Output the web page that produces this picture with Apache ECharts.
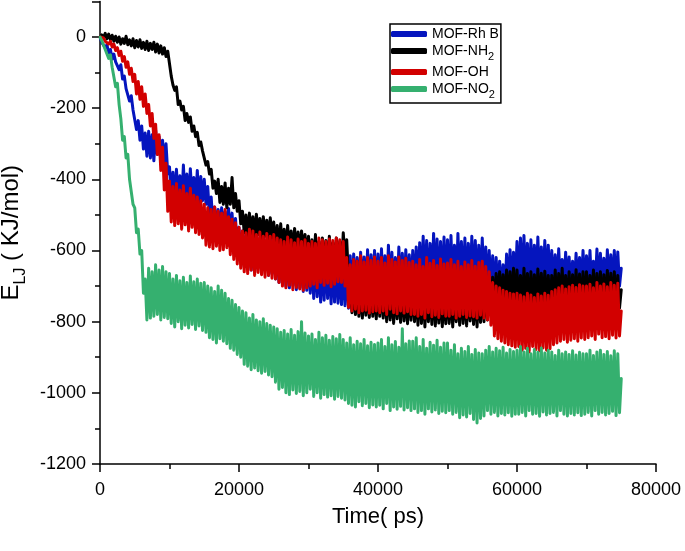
<!DOCTYPE html>
<html><head><meta charset="utf-8">
<script src="https://cdn.jsdelivr.net/npm/echarts@6/dist/echarts.min.js"></script>
<style>html,body{margin:0;padding:0;background:#fff}#c{width:685px;height:551px}</style>
</head><body><div id="c"></div>
<script>
// sampling interval of the traces (ps)
const timeStepPs = 250;
const seriesNames = ['MOF-Rh B', 'MOF-NH2', 'MOF-OH', 'MOF-NO2'];
const seriesColors = ['#0515BE', '#000000', '#D20000', '#35B06F'];

// E_LJ (kJ/mol), one value every 250 ps from 0 to 75000 ps; 20 values per row = 5000 ps
const mofRhB = [
  0, -15, -10, -30, -22, -45, -35, -62, -48, -70, -65, -92, -78, -118, -110, -145, -140, -180, -165, -205,
  -200, -260, -235, -290, -250, -315, -270, -335, -265, -340, -275, -348, -262, -330, -280, -345, -290, -355, -300, -385,
  -365, -450, -380, -465, -372, -455, -390, -470, -360, -460, -385, -475, -370, -455, -395, -465, -375, -470, -392, -460,
  -400, -470, -420, -500, -450, -530, -478, -540, -485, -545, -480, -535, -490, -550, -482, -555, -495, -575, -510, -600,
  -535, -630, -545, -645, -555, -650, -540, -655, -560, -660, -550, -648, -565, -665, -555, -655, -570, -670, -560, -665,
  -570, -680, -575, -690, -580, -695, -565, -700, -585, -705, -575, -698, -590, -710, -580, -705, -595, -715, -600, -712,
  -610, -720, -615, -735, -605, -730, -620, -745, -625, -740, -610, -735, -630, -750, -620, -745, -625, -748, -635, -752,
  -630, -755, -625, -762, -615, -730, -610, -720, -620, -725, -605, -715, -618, -722, -598, -718, -612, -726, -600, -720,
  -610, -722, -595, -715, -615, -728, -585, -718, -605, -712, -620, -725, -590, -716, -608, -720, -598, -710, -612, -722,
  -600, -712, -590, -708, -578, -705, -560, -700, -572, -712, -580, -706, -552, -698, -568, -710, -575, -702, -562, -705,
  -570, -705, -558, -700, -585, -712, -552, -695, -575, -706, -565, -700, -580, -712, -560, -698, -572, -705, -585, -710,
  -565, -702, -590, -712, -600, -718, -615, -722, -620, -720, -630, -725, -640, -728, -610, -715, -598, -712, -605, -708,
  -575, -700, -565, -705, -558, -695, -580, -710, -570, -700, -585, -705, -562, -698, -590, -708, -572, -702, -585, -706,
  -600, -705, -612, -712, -595, -700, -625, -710, -605, -705, -618, -712, -630, -708, -608, -700, -620, -710, -600, -706,
  -615, -705, -600, -712, -630, -702, -596, -710, -608, -700, -622, -714, -598, -706, -612, -708, -600, -710, -604, -700,
  -650
];
const mofNH2 = [
  0, 6, -2, 10, -5, 8, -8, 5, -12, 2, -15, 0, -20, -5, -18, 2, -22, -8, -25, -5,
  -30, -10, -28, -8, -32, -15, -35, -12, -38, -18, -35, -15, -42, -20, -45, -25, -48, -30, -55, -40,
  -75, -110, -135, -150, -140, -190, -180, -205, -195, -235, -215, -240, -225, -265, -250, -280, -268, -305, -295, -320,
  -320, -360, -350, -385, -372, -425, -405, -440, -400, -465, -420, -470, -410, -480, -425, -470, -395, -480, -440, -490,
  -460, -525, -490, -550, -500, -560, -495, -555, -505, -565, -498, -555, -510, -568, -505, -560, -515, -570, -508, -565,
  -520, -590, -530, -600, -525, -595, -540, -605, -530, -598, -545, -610, -538, -600, -548, -612, -545, -605, -555, -615,
  -560, -640, -570, -650, -555, -645, -575, -655, -565, -650, -572, -655, -560, -648, -578, -660, -565, -652, -575, -658,
  -550, -620, -570, -680, -695, -775, -700, -780, -690, -785, -705, -790, -695, -782, -708, -788, -700, -785, -710, -792,
  -700, -785, -690, -790, -705, -800, -695, -795, -710, -805, -698, -792, -706, -802, -694, -798, -712, -806, -700, -796,
  -700, -800, -710, -810, -695, -805, -705, -815, -700, -800, -712, -808, -698, -812, -706, -804, -702, -814, -708, -806,
  -710, -805, -700, -815, -705, -800, -715, -810, -700, -805, -708, -812, -702, -798, -712, -808, -704, -815, -710, -802,
  -705, -800, -698, -795, -690, -780, -675, -760, -665, -740, -660, -745, -668, -752, -655, -748, -660, -755, -650, -750,
  -655, -765, -670, -770, -650, -760, -665, -775, -660, -765, -668, -772, -652, -762, -664, -770, -658, -766, -670, -774,
  -670, -760, -655, -765, -665, -755, -650, -760, -670, -770, -660, -762, -668, -758, -654, -764, -666, -770, -660, -760,
  -660, -760, -670, -750, -655, -765, -665, -755, -660, -760, -668, -762, -656, -754, -664, -766, -660, -758, -670, -762,
  -710
];
const mofOH = [
  0, -5, -3, -12, -8, -20, -12, -28, -20, -38, -30, -52, -40, -68, -55, -85, -70, -105, -88, -125,
  -105, -160, -125, -175, -140, -195, -160, -215, -190, -250, -215, -285, -245, -330, -275, -375, -310, -430, -355, -490,
  -405, -520, -420, -530, -412, -525, -430, -540, -418, -528, -440, -545, -425, -535, -445, -550, -450, -555, -460, -565,
  -470, -585, -480, -590, -485, -595, -478, -588, -490, -600, -495, -598, -485, -592, -505, -612, -512, -625, -522, -638,
  -535, -650, -545, -660, -550, -665, -540, -655, -545, -670, -555, -662, -548, -668, -560, -675, -552, -670, -560, -678,
  -555, -680, -565, -690, -570, -700, -575, -705, -562, -698, -570, -710, -578, -704, -568, -708, -575, -712, -570, -705,
  -580, -700, -575, -695, -580, -705, -565, -690, -570, -698, -575, -692, -568, -702, -572, -695, -565, -688, -570, -690,
  -575, -700, -620, -760, -640, -770, -625, -765, -630, -775, -615, -770, -632, -768, -620, -776, -628, -772, -618, -770,
  -630, -775, -620, -770, -635, -780, -615, -765, -625, -775, -632, -778, -618, -770, -628, -776, -622, -772, -634, -780,
  -630, -780, -640, -785, -625, -780, -645, -790, -620, -775, -636, -786, -628, -782, -642, -788, -624, -778, -638, -785,
  -635, -785, -625, -780, -640, -790, -630, -785, -645, -780, -632, -788, -640, -784, -628, -786, -644, -790, -634, -782,
  -630, -790, -645, -795, -660, -810, -690, -840, -700, -848, -705, -855, -712, -860, -715, -865, -720, -868, -722, -872,
  -720, -870, -725, -880, -730, -875, -720, -885, -725, -870, -732, -878, -722, -882, -728, -874, -720, -880, -726, -876,
  -715, -865, -710, -860, -705, -855, -700, -850, -708, -858, -702, -852, -698, -848, -704, -855, -696, -846, -700, -850,
  -700, -845, -695, -840, -705, -850, -690, -835, -700, -845, -694, -842, -702, -848, -690, -838, -698, -846, -692, -840,
  -770
];
const mofNO2 = [
  0, -10, -15, -35, -30, -60, -50, -85, -90, -140, -130, -190, -230, -290, -280, -340, -330, -400, -400, -470,
  -480, -550, -540, -610, -600, -720, -680, -795, -650, -790, -660, -785, -640, -780, -655, -795, -645, -788, -660, -792,
  -665, -805, -680, -815, -670, -800, -685, -820, -675, -810, -690, -818, -672, -808, -688, -822, -680, -812, -692, -825,
  -690, -830, -700, -845, -705, -850, -715, -860, -700, -848, -712, -855, -720, -862, -735, -875, -740, -880, -752, -892,
  -760, -900, -770, -920, -775, -925, -790, -935, -780, -930, -795, -938, -800, -945, -792, -940, -805, -950, -810, -955,
  -815, -970, -820, -990, -830, -985, -825, -1000, -835, -1005, -822, -992, -838, -1002, -828, -996, -800, -1008, -832, -1000,
  -840, -990, -835, -1010, -850, -1000, -830, -1015, -845, -1005, -838, -1012, -852, -1008, -842, -1018, -848, -1010, -836, -1015,
  -850, -1020, -860, -1030, -845, -1035, -865, -1040, -855, -1025, -862, -1036, -850, -1030, -868, -1042, -858, -1034, -864, -1040,
  -860, -1035, -850, -1045, -870, -1030, -845, -1050, -865, -1040, -856, -1046, -872, -1038, -820, -1048, -862, -1042, -854, -1050,
  -855, -1045, -845, -1055, -870, -1050, -850, -1060, -875, -1045, -858, -1054, -866, -1048, -852, -1058, -872, -1052, -860, -1056,
  -860, -1050, -880, -1060, -865, -1055, -890, -1070, -875, -1062, -884, -1068, -870, -1058, -892, -1075, -878, -1085, -888, -1072,
  -890, -1065, -880, -1050, -870, -1060, -885, -1055, -875, -1065, -882, -1058, -872, -1062, -888, -1056, -878, -1066, -884, -1060,
  -880, -1060, -870, -1055, -885, -1065, -875, -1050, -890, -1060, -878, -1058, -886, -1066, -874, -1054, -888, -1062, -880, -1058,
  -885, -1055, -895, -1065, -880, -1050, -890, -1060, -885, -1065, -892, -1058, -882, -1062, -894, -1056, -886, -1064, -890, -1060,
  -890, -1055, -880, -1065, -895, -1050, -885, -1060, -880, -1055, -892, -1062, -884, -1058, -896, -1052, -882, -1064, -890, -1056,
  -960
];
const seriesValues = [mofRhB, mofNH2, mofOH, mofNO2];

const xMin = 0, xMax = 80000, xInterval = 20000;
const yMin = -1200, yMax = 100, yInterval = 200;

const FONT = '"Liberation Sans", Arial, sans-serif';
const chart = echarts.init(document.getElementById('c'), null, {renderer: 'canvas'});

function legendFmt(name) {
  const m = name.match(/^(.*?)(\d)$/);
  return m ? '{n|' + m[1] + '}{s|' + m[2] + '}' : '{n|' + name + '}';
}
const plainNum = v => String(v);

const axisBlack = {color: '#000', width: 1.5};

chart.setOption({
  animation: false,
  backgroundColor: '#fff',
  grid: {left: 100, right: 29, top: 1.4, bottom: 87, containLabel: false, outerBoundsMode: 'none'},
  legend: {
    data: seriesNames,
    orient: 'vertical',
    left: 390, top: 24,
    padding: [3, 2, 3, 1],
    itemGap: 3,
    itemWidth: 36, itemHeight: 6,
    icon: 'roundRect',
    borderColor: '#000', borderWidth: 1.5,
    formatter: legendFmt,
    textStyle: {
      color: '#000', fontFamily: FONT, fontSize: 14,
      rich: {
        n: {fontSize: 14, fontFamily: FONT, color: '#000', lineHeight: 16},
        s: {fontSize: 11, fontFamily: FONT, color: '#000', verticalAlign: 'bottom', lineHeight: 12, padding: [0, 0, -3, 0]}
      }
    }
  },
  xAxis: {
    type: 'value', min: xMin, max: xMax, interval: xInterval,
    name: 'Time( ps)', nameLocation: 'middle', nameGap: 42,
    nameTextStyle: {fontSize: 22, fontFamily: FONT, color: '#000'},
    axisLine: {show: true, onZero: false, lineStyle: axisBlack},
    axisTick: {show: true, inside: false, length: 8, lineStyle: axisBlack},
    minorTick: {show: true, splitNumber: 2, length: 5, lineStyle: axisBlack},
    splitLine: {show: false},
    axisLabel: {fontSize: 18, fontFamily: FONT, color: '#000', margin: 17, formatter: plainNum}
  },
  yAxis: {
    type: 'value', min: yMin, max: yMax, interval: yInterval,
    name: '{e|E}{s|LJ}{e| ( KJ/mol)}', nameLocation: 'middle', nameGap: 74, nameRotate: 90,
    nameTextStyle: {
      fontSize: 24, fontFamily: FONT, color: '#000',
      rich: {
        e: {fontSize: 24, fontFamily: FONT, color: '#000', lineHeight: 26},
        s: {fontSize: 16, fontFamily: FONT, color: '#000', verticalAlign: 'bottom', lineHeight: 17, padding: [0, 0, -5, 0]}
      }
    },
    axisLine: {show: true, onZero: false, lineStyle: axisBlack},
    axisTick: {show: true, inside: false, length: 8, lineStyle: axisBlack},
    minorTick: {show: true, splitNumber: 2, length: 5, lineStyle: axisBlack},
    splitLine: {show: false},
    axisLabel: {fontSize: 18, fontFamily: FONT, color: '#000', margin: 14, showMaxLabel: false, formatter: plainNum}
  },
  series: seriesNames.map((name, k) => ({
    name: name,
    type: 'line',
    data: seriesValues[k].map((v, i) => [i * timeStepPs, v]),
    showSymbol: false,
    symbol: 'none',
    lineStyle: {width: 3, color: seriesColors[k], join: 'round', cap: 'round'},
    itemStyle: {color: seriesColors[k]},
    emphasis: {disabled: true}
  }))
});
</script>
</body></html>
